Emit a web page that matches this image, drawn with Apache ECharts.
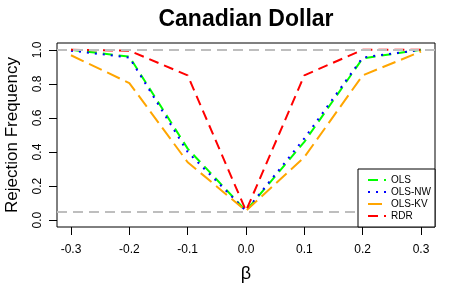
<!DOCTYPE html>
<html>
<head>
<meta charset="utf-8">
<script src="https://cdn.jsdelivr.net/npm/echarts@6/dist/echarts.min.js"></script>
<style>html,body{margin:0;padding:0;background:#fff}#c{width:450px;height:300px}</style>
</head>
<body>
<div id="c"></div>
<script>
var beta = [-0.3, -0.2, -0.1, 0.0, 0.1, 0.2, 0.3];
var ols   = [1.0, 0.96, 0.42, 0.055, 0.46, 0.95, 1.0];
var olsNW = [0.995, 0.955, 0.40, 0.055, 0.48, 0.955, 1.0];
var olsKV = [0.968, 0.805, 0.34, 0.055, 0.37, 0.85, 0.99];
var rdr   = [1.0, 0.995, 0.85, 0.055, 0.85, 1.0, 1.0];
var xTicks = [-0.3, -0.2, -0.1, 0.0, 0.1, 0.2, 0.3];
var yTicks = [0.0, 0.2, 0.4, 0.6, 0.8, 1.0];
var refLines = [0.05, 1.0];

function pairs(ys){ return beta.map(function(b,i){ return [b, ys[i]]; }); }
var FONT = 'Liberation Sans';
var chart = echarts.init(document.getElementById('c'), null, {renderer:'canvas'});
function mkSeries(name, ys, color, dash){
  return {
    name: name, type: 'line', data: pairs(ys), symbol: 'none', showSymbol: false, animation: false,
    lineStyle: {color: color, width: 2, type: dash}, itemStyle: {color: color}, z: 3
  };
}
chart.setOption({
  animation: false,
  textStyle: {fontFamily: FONT},
  title: {
    text: 'Canadian Dollar', left: 241, top: 3, textAlign: 'center',
    textStyle: {fontFamily: FONT, fontSize: 23, fontWeight: 'bold', color: '#000'}
  },
  grid: {left: 57, right: 15, top: 43, bottom: 73, show: true, borderColor: '#000', borderWidth: 1,
    backgroundColor: 'transparent', containLabel: false, outerBoundsMode: 'none'},
  xAxis: {
    type: 'value', min: -0.324, max: 0.324,
    axisLine: {show: false, onZero: false},
    axisTick: {show: true, inside: false, length: 8, lineStyle: {color: '#000'}, customValues: xTicks},
    axisLabel: {margin: 17, fontSize: 12, color: '#000', fontFamily: FONT, customValues: xTicks,
      formatter: function(v){ return v.toFixed(1); }},
    splitLine: {show: false},
    name: 'β', nameLocation: 'middle', nameGap: 38,
    nameTextStyle: {fontSize: 18, color: '#000', fontFamily: FONT}
  },
  yAxis: {
    type: 'value', min: -0.04, max: 1.04,
    axisLine: {show: false, onZero: false},
    axisTick: {show: true, inside: false, length: 8, lineStyle: {color: '#000'}, customValues: yTicks},
    axisLabel: {margin: 13, fontSize: 12, color: '#000', rotate: 90, fontFamily: FONT, customValues: yTicks,
      formatter: function(v){ return v.toFixed(1); }},
    splitLine: {show: false},
    name: 'Rejection Frequency', nameLocation: 'middle', nameGap: 36, nameRotate: 90,
    nameTextStyle: {fontSize: 17, color: '#000', fontFamily: FONT}
  },
  legend: {
    orient: 'vertical', right: 15, bottom: 73,
    data: ['OLS', 'OLS-NW', 'OLS-KV', 'RDR'],
    backgroundColor: '#fff', borderColor: '#000', borderWidth: 1, borderRadius: 0,
    padding: [6, 4, 6, 9], itemGap: 2, itemWidth: 18, itemHeight: 10,
    itemStyle: {opacity: 0},
    textStyle: {fontSize: 10, color: '#000', fontFamily: FONT},
    z: 10
  },
  series: [
    {
      type: 'line', data: [], silent: true, z: 1,
      markLine: {
        silent: true, symbol: 'none', label: {show: false}, animation: false,
        lineStyle: {color: '#bebebe', width: 2, type: [10, 6]},
        data: refLines.map(function(v){ return {yAxis: v}; })
      }
    },
    mkSeries('OLS', ols, '#00ff00', [10, 6]),
    mkSeries('OLS-NW', olsNW, '#0000ff', [2, 6]),
    mkSeries('OLS-KV', olsKV, '#ffa500', [14, 6]),
    mkSeries('RDR', rdr, '#ff0000', [10, 6])
  ]
});
</script>
</body>
</html>
